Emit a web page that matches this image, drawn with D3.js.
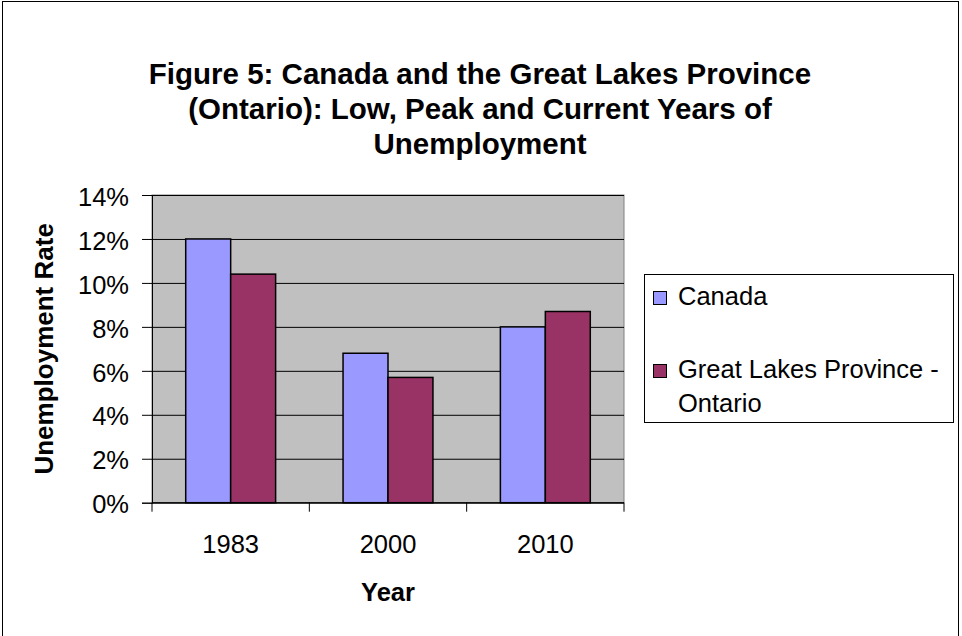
<!DOCTYPE html>
<head>
<style>
  body { margin: 0; background: #fff; }
  text { font-family: Arial, "Liberation Sans", sans-serif; }
</style>
</head>
<body>
<svg width="962" height="636"></svg>
<script src="https://d3js.org/d3.v7.min.js"></script>
<script>

var years = ["1983", "2000", "2010"];
var seriesNames = ["Canada", "Great Lakes Province - Ontario"];
var canada = [0.120, 0.068, 0.080];
var ontario = [0.104, 0.057, 0.087];
var yTicks = [0, 0.02, 0.04, 0.06, 0.08, 0.10, 0.12, 0.14];
var titleLines = ["Figure 5: Canada and the Great Lakes Province",
                  "(Ontario): Low, Peak and Current Years of",
                  "Unemployment"];
var colors = ["#9999ff", "#993366"];

var svg = d3.select("svg");
var fs = 25.5; // body text size

// outer chart border
svg.append("rect")
    .attr("x", 2.5).attr("y", 1.5)
    .attr("width", 956).attr("height", 640)
    .attr("fill", "#fff").attr("stroke", "#000").attr("stroke-width", 1);

var plot = {left: 152, right: 624, top: 195, bottom: 502.7};

var x0 = d3.scaleBand()
    .domain(years)
    .range([plot.left, plot.right]);

var x1 = d3.scaleBand()
    .domain(seriesNames)
    .range([0, x0.bandwidth()])
    .paddingOuter(0.75);

var y = d3.scaleLinear()
    .domain([0, 0.14])
    .range([plot.bottom, plot.top]);

// plot background
svg.append("rect")
    .attr("x", plot.left).attr("y", plot.top)
    .attr("width", plot.right - plot.left).attr("height", plot.bottom - plot.top)
    .attr("fill", "#c0c0c0").attr("stroke", "#808080");

// gridlines
svg.append("g")
    .attr("transform", "translate(" + plot.left + ",0)")
    .call(d3.axisLeft(y).tickValues(yTicks).tickSize(-(plot.right - plot.left)).tickFormat(""))
    .call(function(g) { g.select(".domain").remove(); })
    .selectAll("line").attr("stroke", "#000");

// bars
var data = years.map(function(yr, i) { return {year: yr, values: [canada[i], ontario[i]]}; });

svg.append("g").selectAll("g")
  .data(data)
  .enter().append("g")
    .attr("transform", function(d) { return "translate(" + x0(d.year) + ",0)"; })
  .selectAll("rect")
  .data(function(d) { return d.values.map(function(v, j) { return {name: seriesNames[j], value: v, j: j}; }); })
  .enter().append("rect")
    .attr("x", function(d) { return x1(d.name); })
    .attr("y", function(d) { return y(d.value); })
    .attr("width", x1.bandwidth())
    .attr("height", function(d) { return plot.bottom - y(d.value); })
    .attr("fill", function(d) { return colors[d.j]; })
    .attr("stroke", "#000")
    .attr("stroke-width", 1.5);

// y axis
var yAxis = svg.append("g")
    .attr("transform", "translate(" + plot.left + ",0)")
    .call(d3.axisLeft(y).tickValues(yTicks).tickSize(10).tickPadding(13).tickFormat(d3.format(".0%")));
yAxis.selectAll("text").attr("font-size", fs).attr("fill", "#000").attr("dy", "0.4em");
yAxis.selectAll("line, path").attr("stroke", "#000");

// x axis: ticks at category boundaries
var xAxis = svg.append("g")
    .attr("transform", "translate(0," + plot.bottom + ")");
xAxis.append("line")
    .attr("x1", plot.left).attr("x2", plot.right)
    .attr("stroke", "#000");
xAxis.selectAll(".bt")
  .data(years.concat(["end"]))
  .enter().append("line")
    .attr("x1", function(d, i) { return i < years.length ? x0(d) : plot.right; })
    .attr("x2", function(d, i) { return i < years.length ? x0(d) : plot.right; })
    .attr("y1", 0).attr("y2", 9)
    .attr("stroke", "#000");
xAxis.selectAll(".lbl")
  .data(years)
  .enter().append("text")
    .attr("x", function(d) { return x0(d) + x0.bandwidth() / 2; })
    .attr("y", 50.5)
    .attr("text-anchor", "middle")
    .attr("font-size", fs)
    .text(function(d) { return d; });

// axis titles
svg.append("text")
    .attr("x", (plot.left + plot.right) / 2)
    .attr("y", 601)
    .attr("text-anchor", "middle")
    .attr("font-size", fs).attr("font-weight", "bold")
    .text("Year");

svg.append("text")
    .attr("transform", "translate(53," + (plot.top + plot.bottom) / 2 + ") rotate(-90)")
    .attr("text-anchor", "middle")
    .attr("font-size", 26).attr("font-weight", "bold")
    .text("Unemployment Rate");

// title
svg.append("g").selectAll("text")
  .data(titleLines)
  .enter().append("text")
    .attr("x", 480)
    .attr("y", function(d, i) { return 84 + i * 35; })
    .attr("text-anchor", "middle")
    .attr("font-size", 29.5).attr("font-weight", "bold")
    .text(function(d) { return d; });

// legend
var legend = svg.append("g");
legend.append("rect")
    .attr("x", 644.5).attr("y", 274.5)
    .attr("width", 309).attr("height", 148)
    .attr("fill", "#fff").attr("stroke", "#000");

var legendRows = [
  {lines: ["Canada"], y: 305},
  {lines: ["Great Lakes Province -", "Ontario"], y: 378}
];
legendRows.forEach(function(r, i) {
  legend.append("rect")
      .attr("x", 653.5).attr("y", r.y - 13.5)
      .attr("width", 13).attr("height", 13)
      .attr("fill", colors[i]).attr("stroke", "#000");
  r.lines.forEach(function(t, k) {
    legend.append("text")
        .attr("x", 678)
        .attr("y", r.y + k * 33.5)
        .attr("font-size", fs)
        .text(t);
  });
});

</script>
</body>
